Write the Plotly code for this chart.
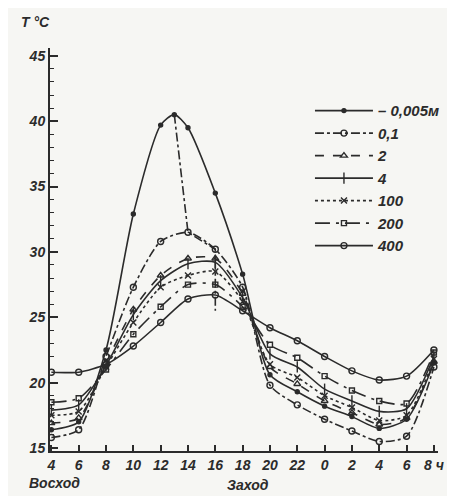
import plotly.graph_objects as go

# Hours (4 h one day .. 8 h next day, continuous scale)
hours = [4, 6, 8, 10, 12, 14, 16, 18, 20, 22, 24, 26, 28, 30, 32]
hours_surface = [4, 6, 8, 10, 12, 13, 14, 16, 18, 20, 22, 24, 26, 28, 30, 32]

t_m0005 = [16.4, 17.0, 22.5, 32.9, 39.7, 40.5, 39.5, 34.5, 28.3, 20.6, 19.3, 18.2, 17.4, 16.5, 17.2, 21.5]
t_01 = [15.8, 16.4, 22.0, 27.3, 30.8, 31.5, 30.2, 27.3, 19.8, 18.3, 17.2, 16.3, 15.5, 15.9, 21.2]
t_2 = [16.9, 17.3, 21.5, 25.6, 28.2, 29.5, 29.5, 26.8, 21.2, 19.9, 18.6, 17.7, 16.8, 17.3, 21.6]
t_4 = [17.9, 18.3, 21.3, 25.2, 27.8, 29.1, 29.2, 26.5, 22.2, 21.2, 19.5, 18.6, 17.8, 18.0, 22.0]
t_100 = [17.5, 17.8, 21.2, 24.6, 27.3, 28.2, 28.5, 26.2, 21.4, 20.4, 19.0, 18.1, 17.1, 17.5, 21.8]
t_200 = [18.5, 18.8, 21.0, 23.7, 25.8, 27.5, 27.5, 25.8, 22.9, 21.9, 20.5, 19.4, 18.6, 18.4, 22.3]
t_400 = [20.8, 20.8, 21.4, 22.8, 24.6, 26.4, 26.7, 25.5, 24.2, 23.2, 22.0, 20.9, 20.2, 20.5, 22.5]

# line through the maxima
max_hours = [13, 14, 16, 16]
max_temps = [40.5, 31.5, 30.2, 25.5]

names = ["– 0,005м", "0,1", "2", "4", "100", "200", "400"]
tick_vals = [4, 6, 8, 10, 12, 14, 16, 18, 20, 22, 24, 26, 28, 30, 32]
tick_text = ["4", "6", "8", "10", "12", "14", "16", "18", "20", "22", "0", "2", "4", "6", "8 ч"]

ink = "#2b2b2b"
fnt = dict(family="Liberation Sans, Arial, sans-serif", color=ink, style="italic", weight="bold")

styles = [
    (hours_surface, t_m0005, "solid", "circle", 4, ink),
    (hours, t_01, "dashdot", "circle-open", 6, ink),
    (hours, t_2, "dash", "triangle-up-open", 6, ink),
    (hours, t_4, "solid", "line-ns-open", 8, ink),
    (hours, t_100, "dot", "x-thin-open", 6, ink),
    (hours, t_200, "longdashdot", "square-open", 5, ink),
    (hours, t_400, "solid", "circle-open", 6, ink),
]

fig = go.Figure()
for name, (xs, ys, dash, sym, size, col) in zip(names, styles):
    fig.add_trace(go.Scatter(
        x=xs, y=ys, name=name, mode="lines+markers",
        line=dict(color=col, width=1.6, dash=dash, shape="spline", smoothing=0.7),
        marker=dict(symbol=sym, size=size, color=col, line=dict(color=col, width=1.4)),
    ))

fig.add_trace(go.Scatter(
    x=max_hours, y=max_temps, mode="lines", showlegend=False,
    line=dict(color=ink, width=1.6, dash="dashdot"), hoverinfo="skip",
))

fig.update_layout(
    width=455, height=496,
    margin=dict(l=42, r=25, t=40, b=53),
    paper_bgcolor="#f6f6f3", plot_bgcolor="#f6f6f3",
    font=dict(size=14, **fnt),
    showlegend=True,
    legend=dict(x=0.67, y=0.885, xanchor="left", yanchor="top",
                bgcolor="rgba(0,0,0,0)", itemwidth=58,
                font=dict(size=15, **fnt), tracegroupgap=0),
    xaxis=dict(range=[3.9, 32.3], tickvals=tick_vals, ticktext=tick_text,
               showgrid=False, zeroline=False, showline=True, linecolor=ink, linewidth=2,
               ticks="inside", ticklen=6, tickwidth=1.5, tickcolor=ink,
               tickfont=dict(size=14, **fnt)),
    yaxis=dict(range=[14.77, 45.6], tickvals=[15, 20, 25, 30, 35, 40, 45],
               showgrid=False, zeroline=False, showline=True, linecolor=ink, linewidth=2,
               ticks="inside", ticklen=8, tickwidth=1.5, tickcolor=ink,
               minor=dict(dtick=1, ticks="inside", ticklen=4, tickwidth=1, tickcolor=ink),
               tickfont=dict(size=14, **fnt)),
)

fig.add_annotation(text="T °C", xref="paper", yref="paper", x=-0.08, y=1.065,
                   xanchor="left", yanchor="middle", showarrow=False, font=dict(size=14, **fnt))
fig.add_annotation(text="Восход", xref="paper", yref="paper", x=-0.06, y=-0.08,
                   xanchor="left", yanchor="middle", showarrow=False, font=dict(size=14, **fnt))
fig.add_annotation(text="Заход", xref="paper", yref="paper", x=0.45, y=-0.085,
                   xanchor="left", yanchor="middle", showarrow=False, font=dict(size=14, **fnt))

fig.write_html("out.html")
